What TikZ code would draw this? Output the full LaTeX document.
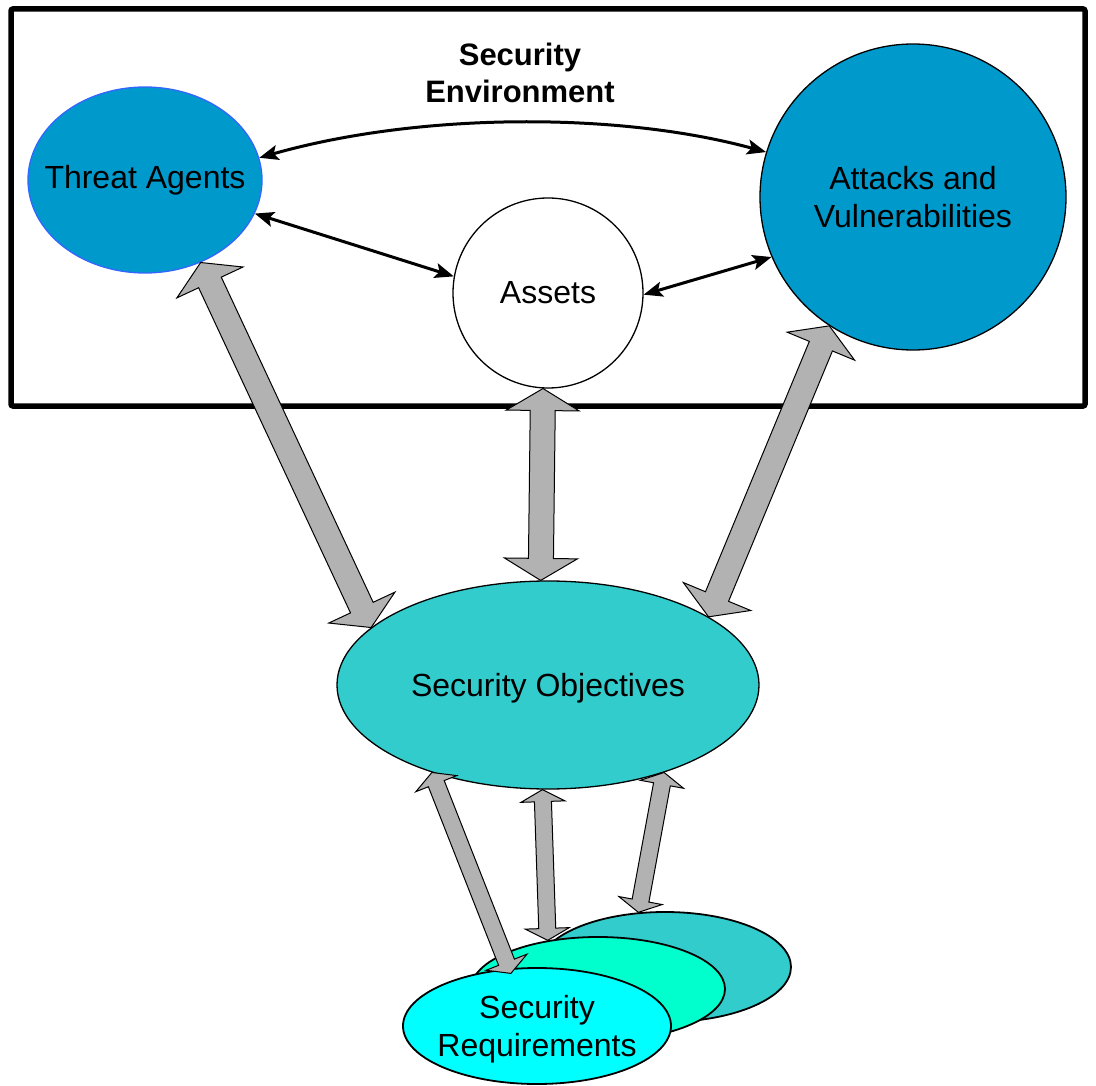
\documentclass[tikz,border=0pt]{standalone}
\usepackage{fontspec}
\setmainfont{Liberation Sans}
\usetikzlibrary{calc,shapes.geometric,arrows.meta}

\definecolor{agentblue}{HTML}{0099CC}
\definecolor{agentedge}{HTML}{3366FF}
\definecolor{objteal}{HTML}{33CCCC}
\definecolor{reqmint}{HTML}{00FFCC}
\definecolor{reqcyan}{HTML}{00FFFF}
\definecolor{linkgray}{HTML}{B2B2B2}

\tikzset{
  bubble/.style={ellipse, draw=black, line width=1.3pt, inner sep=0pt},
  reqset/.style={bubble, line width=1.8pt},
  lbl/.style={inner sep=0pt, align=center, font=\fontsize{32}{38}\selectfont},
  envtitle/.style={inner sep=0pt, align=center, font=\fontsize{31}{37}\selectfont\bfseries},
  envbox/.style={draw=black, line width=5.5pt, rounded corners=2pt},
  link/.style={line width=3pt,
    {Stealth[length=19pt,width=15pt,inset=4pt]}-{Stealth[length=19pt,width=15pt,inset=4pt]}},
  garrow/.style={draw=black, line width=1pt, fill=linkgray, line join=miter},
}

% double-headed block arrow between two points:
% #1,#2 tips, #3 head length, #4 half head width, #5 half shaft width
\newcommand{\blockarr}[5]{%
  \path ($(#1)!#3!(#2)$) coordinate (ba-a) ($(#2)!#3!(#1)$) coordinate (ba-b);
  \draw[garrow] (#1)
    -- ($(ba-a)!#4!90:(#2)$) -- ($(ba-a)!#5!90:(#2)$)
    -- ($(ba-b)!#5!-90:(#1)$) -- ($(ba-b)!#4!-90:(#1)$)
    -- (#2)
    -- ($(ba-b)!#4!90:(#1)$) -- ($(ba-b)!#5!90:(#1)$)
    -- ($(ba-a)!#5!-90:(#2)$) -- ($(ba-a)!#4!-90:(#2)$)
    -- cycle;
}

\begin{document}
\begin{tikzpicture}[x=1pt,y=-1pt]
\useasboundingbox (0,0) rectangle (1096,1086);

% security environment frame
\draw[envbox] (11,9) rectangle (1085,406);
\node[envtitle] (envt) at (520,73) {Security\\Environment};

% environment members
\node[bubble, fill=agentblue, draw=agentedge, minimum width=234pt, minimum height=186pt] (ta) at (145,180) {};
\node[lbl] (tat) at (ta) {Threat Agents};
\node[bubble, circle, fill=agentblue, minimum size=306pt] (av) at (913,197) {};
\node[lbl] (avt) at (av) {Attacks and\\Vulnerabilities};
\node[bubble, circle, fill=white, minimum size=190pt] (as) at (548,293) {};
\node[lbl] (ast) at (as) {Assets};

% objectives
\node[bubble, fill=objteal, minimum width=422pt, minimum height=208pt] (so) at (548,685) {};
\node[lbl] (sot) at (548,688) {Security Objectives};

% stacked requirement sets
\node[reqset, fill=objteal, minimum width=252pt, minimum height=110pt] (srb) at (665,967) {};
\node[reqset, fill=reqmint, minimum width=254pt, minimum height=104pt] (srm) at (598,989) {};
\node[reqset, fill=reqcyan, minimum width=268pt, minimum height=116pt] (srf) at (537,1026) {};
\node[lbl] (srt) at (537,1029) {Security\\Requirements};

% relations inside the environment
\draw[link] (ta.11) .. controls (420,112) and (620,112) .. (av.163);
\draw[link] (ta.-17) -- (as.170);
\draw[link] (as.-1) -- (av.-157);

% environment to objectives
\blockarr{ta.-56}{so.162}{22pt}{36.5pt}{12.5pt}
\blockarr{as.-93}{so.94}{22pt}{36.5pt}{12.5pt}
\blockarr{av.-123}{so.23.5}{22pt}{36.5pt}{12.5pt}

% objectives to requirements
\path ($(srf.116)+(2,5)$) coordinate (srf-in);
\blockarr{so.-143.6}{srf-in}{12pt}{22pt}{8.5pt}
\blockarr{so.-93}{srm.136}{12pt}{22pt}{8.5pt}
\blockarr{so.-37.4}{srb.116.6}{12pt}{22pt}{8.5pt}
\end{tikzpicture}
\end{document}
